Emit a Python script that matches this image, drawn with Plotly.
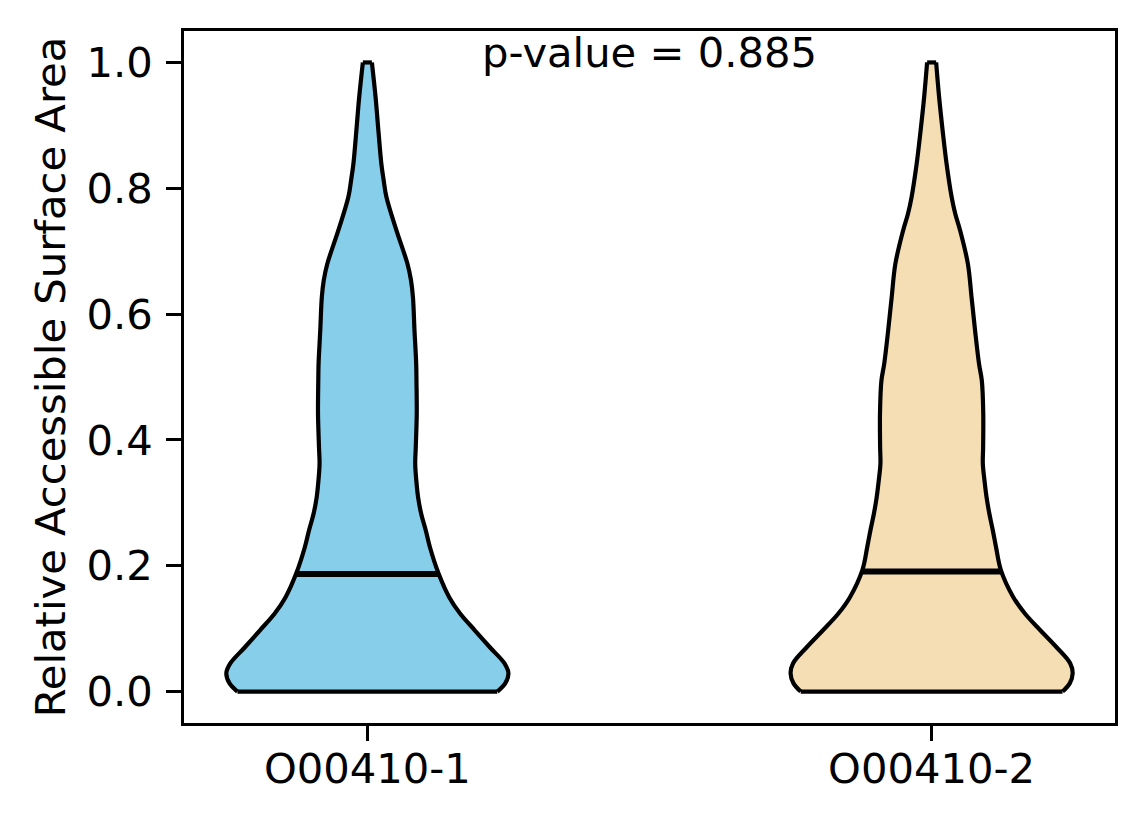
import numpy as np
import plotly.graph_objs as go

# categories and colours
samples = ["O00410-1", "O00410-2"]
fills = ["#87CEEB", "#F5DEB3"]

# violin outlines: RSA level vs relative half-width (max = 1)
rsa_levels_1 = [0.0, 0.013, 0.029, 0.045, 0.070, 0.097, 0.124, 0.150, 0.188, 0.229,
                0.256, 0.283, 0.308, 0.335, 0.362, 0.388, 0.442, 0.494, 0.521, 0.574,
                0.627, 0.654, 0.680, 0.733, 0.786, 0.815, 0.839, 0.892, 0.945, 1.0]
density_1 = [0.921, 0.977, 1.0, 0.971, 0.870, 0.763, 0.657, 0.580, 0.504, 0.444,
             0.414, 0.381, 0.360, 0.347, 0.339, 0.343, 0.350, 0.348, 0.346, 0.334,
             0.323, 0.309, 0.284, 0.206, 0.135, 0.114, 0.099, 0.078, 0.058, 0.032]

rsa_levels_2 = [0.0, 0.013, 0.029, 0.045, 0.070, 0.097, 0.124, 0.150, 0.193, 0.229,
                0.256, 0.283, 0.308, 0.335, 0.362, 0.388, 0.442, 0.494, 0.521, 0.574,
                0.627, 0.680, 0.733, 0.759, 0.786, 0.839, 0.892, 0.945, 1.0]
density_2 = [0.928, 0.979, 1.0, 0.982, 0.887, 0.772, 0.661, 0.579, 0.491, 0.457,
             0.434, 0.409, 0.390, 0.375, 0.363, 0.365, 0.366, 0.356, 0.336, 0.308,
             0.283, 0.257, 0.202, 0.168, 0.142, 0.106, 0.078, 0.053, 0.032]

medians = [0.187, 0.191]
p_value = 0.885

half_width = 0.25  # violin half width at max density, in x units
font = dict(family="DejaVu Sans", size=41.7, color="black")
edge = dict(color="black", width=4.2)

fig = go.Figure()

levels = [rsa_levels_1, rsa_levels_2]
dens = [density_1, density_2]
for i, name in enumerate(samples):
    pos = i + 1
    y = np.array(levels[i])
    w = np.array(dens[i]) * half_width
    # body fill (straight segments, no edge)
    xs = np.concatenate([pos + w, (pos - w)[::-1]])
    ys = np.concatenate([y, y[::-1]])
    fig.add_trace(go.Scatter(x=xs, y=ys, mode="lines", fill="toself",
                             fillcolor=fills[i], line=dict(width=0),
                             name=name, showlegend=False, hoverinfo="skip"))
    # smooth sides
    for side in (pos + w, pos - w):
        fig.add_trace(go.Scatter(x=side, y=y, mode="lines",
                                 line=dict(edge, shape="spline"),
                                 showlegend=False, hoverinfo="skip"))
    # flat bottom and top caps
    for k in (0, -1):
        fig.add_trace(go.Scatter(x=[pos - w[k], pos + w[k]], y=[y[k], y[k]],
                                 mode="lines", line=edge,
                                 showlegend=False, hoverinfo="skip"))
    # median bar clipped to the violin body
    mw = np.interp(medians[i], y, w)
    fig.add_trace(go.Scatter(x=[pos - mw, pos + mw], y=[medians[i], medians[i]],
                             mode="lines", line=dict(color="black", width=6),
                             showlegend=False, hoverinfo="skip"))

fig.add_annotation(text="p-value = %.3f" % p_value, x=0.5, y=1.0, xref="paper",
                   yref="paper", xanchor="center", yanchor="top", yshift=5,
                   showarrow=False, font=font)

axis_style = dict(showline=True, linecolor="black", linewidth=3.3, mirror=True,
                  ticks="outside", ticklen=14.6, tickwidth=3.3, tickcolor="black",
                  showgrid=False, zeroline=False, tickfont=font)

fig.update_xaxes(range=[0.675, 2.325], tickvals=[1, 2], ticktext=samples,
                 ticklabelstandoff=-8, **axis_style)
fig.update_yaxes(range=[-0.05, 1.05], tickvals=[0, 0.2, 0.4, 0.6, 0.8, 1.0],
                 tickformat=".1f", ticklabelstandoff=5,
                 title=dict(text="Relative Accessible Surface Area", font=font, standoff=9),
                 **axis_style)

fig.update_layout(width=1144, height=824, plot_bgcolor="white", paper_bgcolor="white",
                  margin=dict(l=184, r=29, t=31, b=101), font=font)

# drop the browser's default body margin so the figure sits at the page corner
fig.write_html("out.html", config=dict(displayModeBar=False),
               post_script="document.body.style.margin='0';")
